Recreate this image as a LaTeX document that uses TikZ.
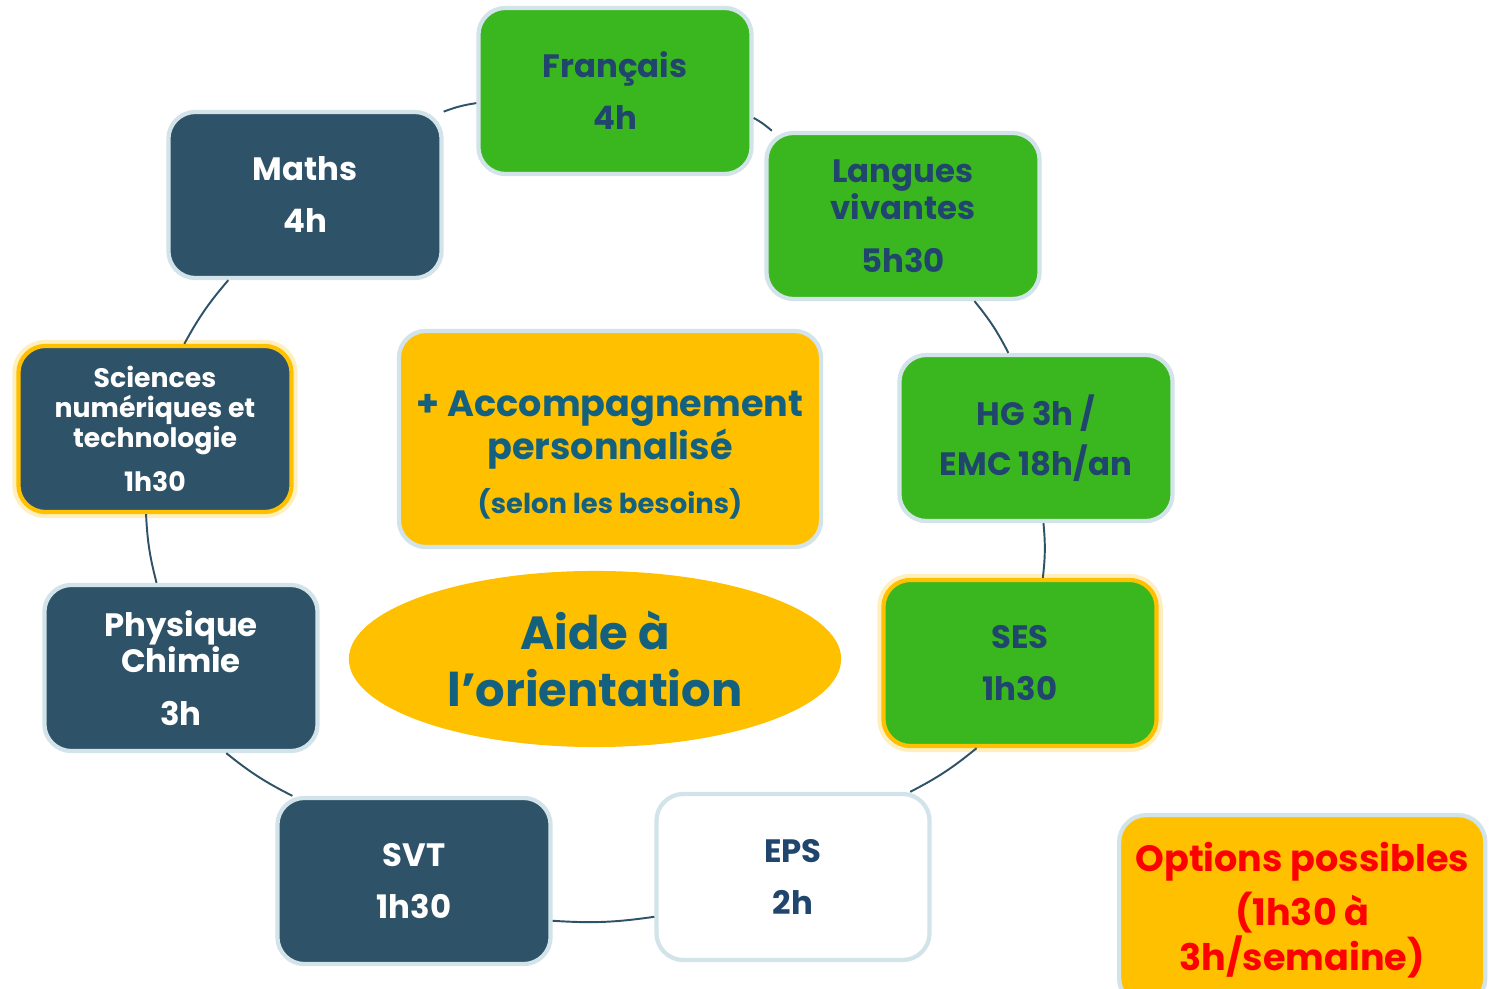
\documentclass[tikz,border=0pt]{standalone}
\usepackage{fontspec}
\setmainfont{Poppins}
\usetikzlibrary{shapes.geometric}
\definecolor{vert}{HTML}{3AB71E}
\definecolor{ardoise}{HTML}{2E5267}
\definecolor{jaune}{HTML}{FFC000}
\definecolor{bordure}{HTML}{D2E3EA}
\definecolor{marine}{HTML}{21466E}
\definecolor{petrole}{HTML}{14607F}
\begin{document}
\begin{tikzpicture}[x=0.01cm, y=-0.01cm,
  taille/.style 2 args={font={\bfseries\fontsize{#1}{#2}\selectfont}},
  matiere/.style={rectangle, rounded corners=0.27cm, minimum width=2.73cm,
    minimum height=1.66cm, align=center, inner sep=2pt, line width=1.2pt, taille={9.2}{11}},
  verte/.style={matiere, fill=vert, draw=bordure, text=marine},
  sombre/.style={matiere, fill=ardoise, draw=bordure, text=white},
  lueur/.style={draw=jaune, preaction={draw=jaune, draw opacity=.25, line width=3.5pt}},
  lien/.style={draw=ardoise, line width=0.55pt}]
\clip (0,0) rectangle (1491,989);
\fill[white] (0,0) rectangle (1491,989);
%matieres
\node[sombre] (maths) at (305,195) {Maths\\[3.8pt]4h};
\node[verte] (francais) at (615,91) {Français\\[3.8pt]4h};
\node[verte, taille={9.2}{10.5}] (langues) at (903,216) {Langues\\vivantes\\[4.5pt]5h30};
\node[verte] (hg) at (1036,438) {HG 3h /\\[3.2pt]EMC 18h/an};
\node[verte, lueur] (ses) at (1020,663) {SES\\[3.8pt]1h30};
\node[matiere, fill=white, draw=bordure, text=marine] (eps) at (793,877) {EPS\\[3.8pt]2h};
\node[sombre] (svt) at (414,881) {SVT\\[3.8pt]1h30};
\node[sombre, taille={9.2}{10.5}] (physique) at (181,668) {Physique\\Chimie\\[4.5pt]3h};
\node[sombre, lueur, taille={7.6}{8.5}] (sciences) at (155,429) {Sciences\\numériques et\\technologie\\[4pt]1h30};
%centre
\node[rectangle, rounded corners=0.27cm, fill=jaune, draw=bordure, line width=1.2pt,
  minimum width=4.22cm, minimum height=2.16cm, align=center, text=petrole, taille={10.4}{12}]
  (accompagnement) at (610,439)
  {\\[4.6pt]+ Accompagnement\\personnalisé\\[3.5pt]{\fontsize{7.8}{11.5}\selectfont (selon les besoins)}};
\node[ellipse, fill=jaune, minimum width=4.92cm, minimum height=1.76cm, inner sep=0pt,
  align=center, text=petrole, taille={13.2}{16.2}] (aide) at (595,659)
  {Aide à\\l’orientation};
\node[rectangle, rounded corners=0.27cm, fill=jaune, draw=bordure, line width=1.2pt,
  minimum width=3.66cm, minimum height=1.9cm, align=center, text=red, anchor=north west,
  taille={10.4}{12.8}] (options) at (1117,813)
  {Options possibles\\[2.8pt](1h30 à\\3h/semaine)};
%liens
\draw[lien] (maths.31) to[bend left=6] (francais.185);
\draw[lien] (francais.-11) to[bend left=6] (langues.147);
\draw[lien] (langues.-50) to[bend left=6] (hg.108);
\draw[lien] (hg.-85) to[bend left=6] (ses.75);
\draw[lien] (ses.243) to[bend left=6] (eps.36);
\draw[lien] (eps.196) to[bend left=6] (svt.-16);
\draw[lien] (svt.145) to[bend left=6] (physique.-62);
\draw[lien] (physique.106) to[bend left=6] (sciences.264);
\draw[lien] (sciences.71) to[bend left=6] (maths.228);
\end{tikzpicture}
\end{document}
